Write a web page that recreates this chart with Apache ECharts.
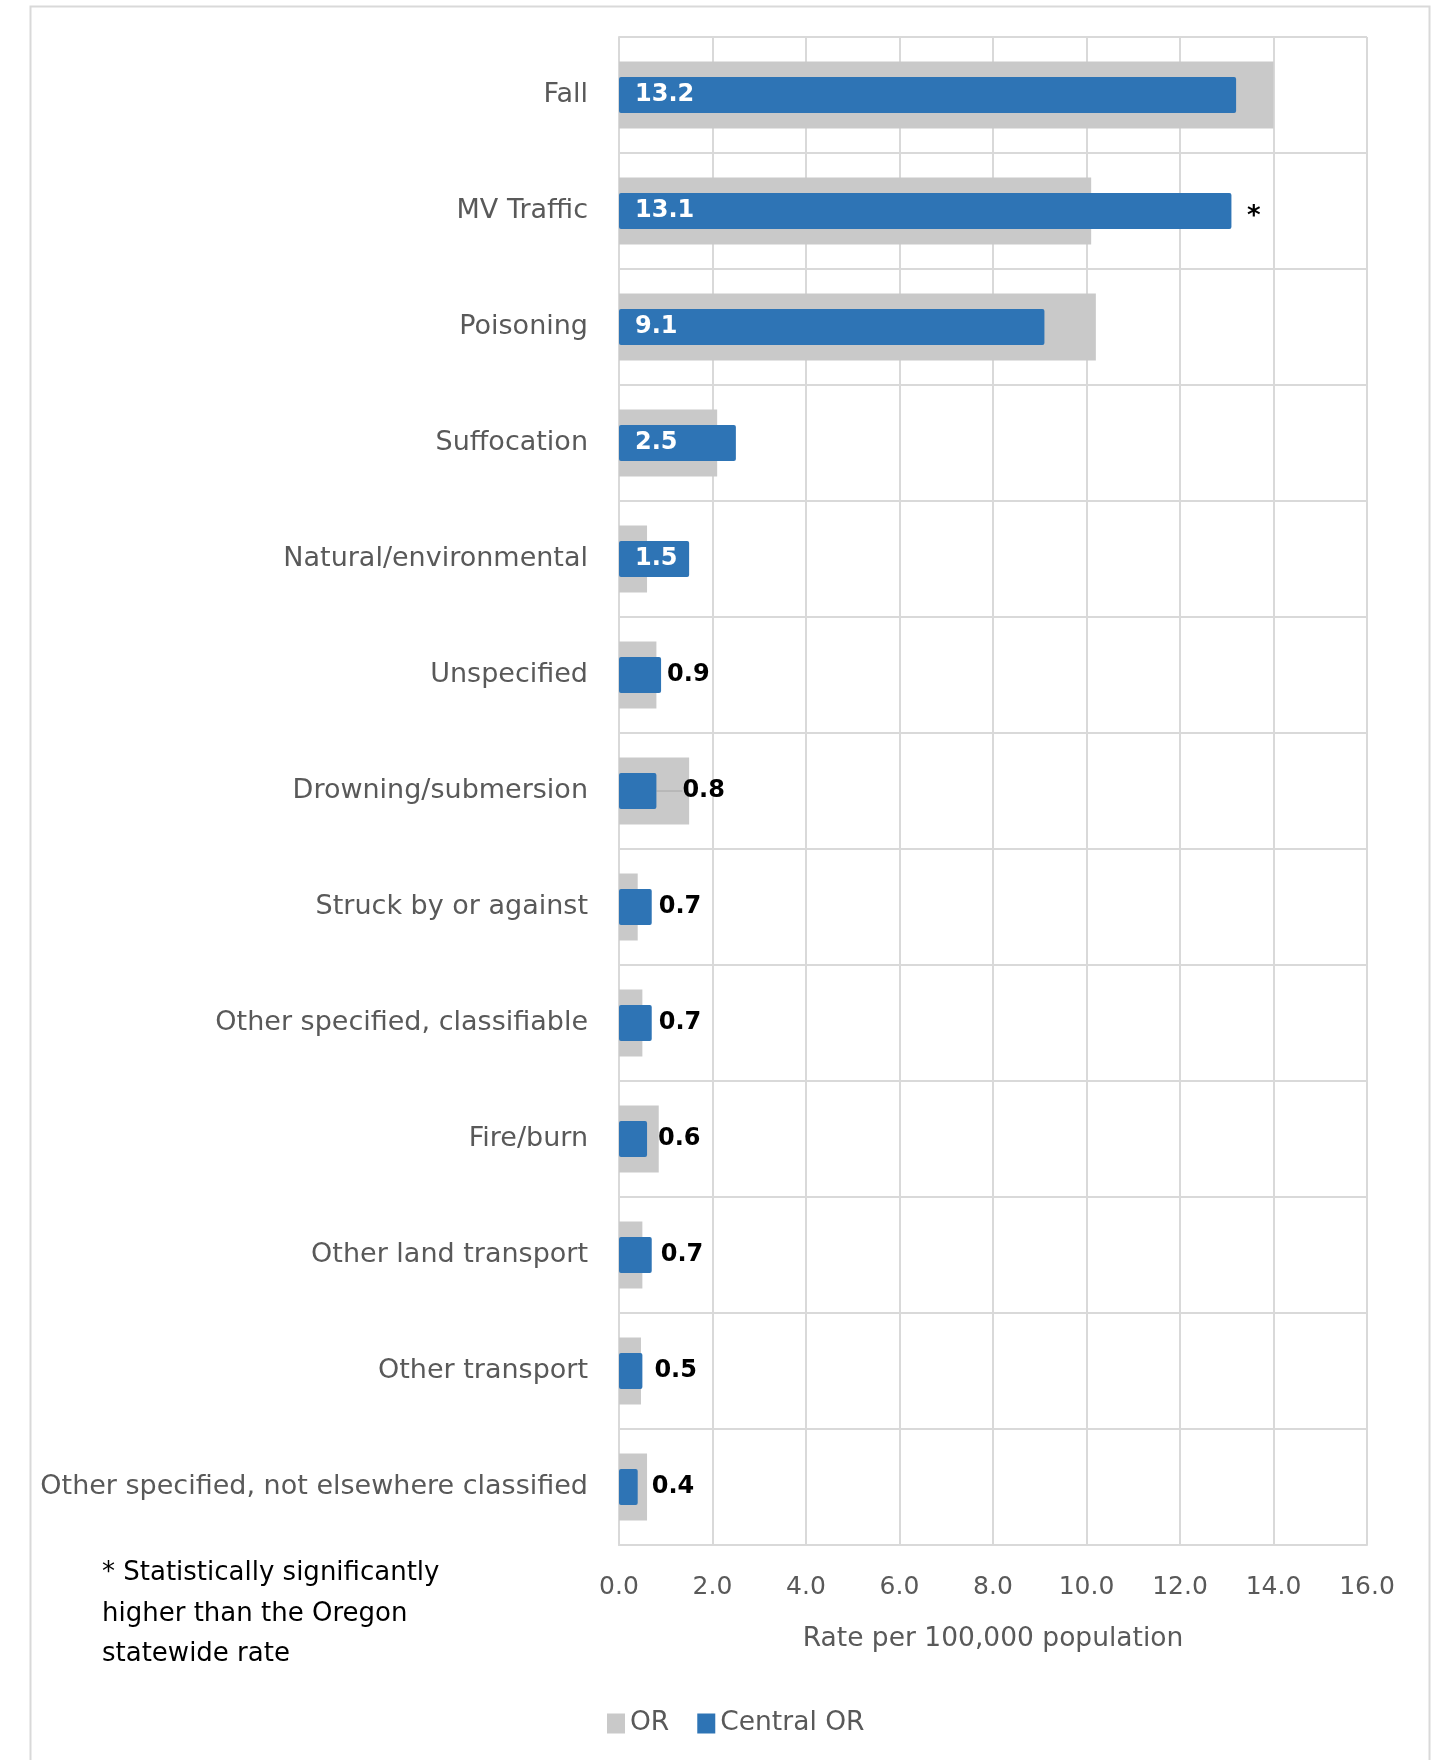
<!DOCTYPE html>
<html>
<head>
<meta charset="utf-8">
<script src="https://cdn.jsdelivr.net/npm/echarts@6/dist/echarts.min.js"></script>
<style>
html,body{margin:0;padding:0;background:#fff;}
#chart{width:1444px;height:1760px;}
</style>
</head>
<body>
<div id="chart"></div>
<script>
const categories = [
  'Fall', 'MV Traffic', 'Poisoning', 'Suffocation', 'Natural/environmental',
  'Unspecified', 'Drowning/submersion', 'Struck by or against',
  'Other specified, classifiable', 'Fire/burn', 'Other land transport',
  'Other transport', 'Other specified, not elsewhere classified'
];
const orValues = [14.0, 10.1, 10.2, 2.1, 0.6, 0.8, 1.5, 0.4, 0.5, 0.85, 0.5, 0.47, 0.6];
const centralValues = [13.2, 13.1, 9.1, 2.5, 1.5, 0.9, 0.8, 0.7, 0.7, 0.6, 0.7, 0.5, 0.4];
const significant = ['MV Traffic'];
const xTicks = [0, 2, 4, 6, 8, 10, 12, 14, 16];
const legendNames = ['OR', 'Central OR'];
const footnote = ['* Statistically significantly', 'higher than the Oregon', 'statewide rate'];
const axisTitle = 'Rate per 100,000 population';

const GREY = '#c9c9c9';
const BLUE = '#2e74b5';
const TXT = '#595959';
const FONT = '"DejaVu Sans", Verdana, sans-serif';
const GRIDC = '#d9d9d9';

const outsideDist = [0, 0, 0, 0, 0, 6, 6, 7, 7, 11, 9, 12, 14];
const movedLabel = 'Drowning/submersion';

const blueData = centralValues.map((v, i) => {
  const inside = v >= 1.5;
  const item = {
    value: v,
    label: inside ? {
      position: 'insideLeft', distance: 16, color: '#ffffff'
    } : {
      position: 'right', distance: outsideDist[i], color: '#000000'
    }
  };
  if (categories[i] === movedLabel) {
    item.labelLine = {show: true, lineStyle: {color: '#a6a6a6', width: 1}};
  }
  return item;
});

const catAxisBase = {
  type: 'category', data: categories, inverse: true
};

const chart = echarts.init(document.getElementById('chart'), null, {renderer: 'canvas'});
chart.setOption({
  animation: false,
  backgroundColor: '#ffffff',
  textStyle: {fontFamily: FONT},
  grid: {left: 619, right: 77, top: 37, bottom: 215, containLabel: false},
  legend: {
    data: legendNames,
    left: 602, top: 1705,
    itemWidth: 18, itemHeight: 20, itemGap: 28,
    icon: 'rect',
    textStyle: {fontSize: 26.5, color: TXT, fontFamily: FONT}
  },
  xAxis: {
    type: 'value',
    min: xTicks[0], max: xTicks[xTicks.length - 1], interval: xTicks[1] - xTicks[0],
    axisLine: {show: true, lineStyle: {color: GRIDC, width: 2}},
    axisTick: {show: false},
    axisLabel: {fontSize: 25, color: TXT, margin: 30, fontFamily: FONT,
      formatter: v => v.toFixed(1)},
    splitLine: {show: true, lineStyle: {color: GRIDC, width: 2}},
    name: axisTitle, nameLocation: 'middle', nameGap: 81,
    nameTextStyle: {fontSize: 26.5, color: TXT, fontFamily: FONT}
  },
  yAxis: [
    Object.assign({}, catAxisBase, {
      axisLine: {show: true, lineStyle: {color: GRIDC, width: 2}},
      axisTick: {show: false},
      axisLabel: {fontSize: 27, color: TXT, margin: 31, fontFamily: FONT},
      splitLine: {show: true, lineStyle: {color: GRIDC, width: 2}}
    }),
    Object.assign({}, catAxisBase, {show: false})
  ],
  series: [
    {
      name: legendNames[0], type: 'bar', data: orValues,
      yAxisIndex: 0, barWidth: 67,
      itemStyle: {color: GREY},
      z: 2
    },
    {
      name: legendNames[1], type: 'bar', data: blueData,
      yAxisIndex: 1, barWidth: 36,
      itemStyle: {color: BLUE, borderRadius: 2},
      label: {show: true, fontSize: 24, fontWeight: 'bold', fontFamily: FONT,
        formatter: p => p.value.toFixed(1)},
      labelLayout: function (params) {
        if (categories[params.dataIndex] === movedLabel) {
          return {dx: 20};
        }
        return {};
      },
      markPoint: {
        symbol: 'circle', symbolSize: 1,
        itemStyle: {color: 'rgba(0,0,0,0)'},
        label: {show: true, position: 'right', distance: 15, offset: [0, 6], formatter: '*',
          color: '#000', fontSize: 26, fontWeight: 'bold', fontFamily: FONT},
        data: significant.map(c => ({coord: [centralValues[categories.indexOf(c)], c]}))
      },
      z: 3
    }
  ],
  graphic: [
    {type: 'rect', left: 28, top: 4, shape: {width: 1399, height: 1800},
      style: {fill: 'none', stroke: GRIDC, lineWidth: 2}, silent: true, z: -1},
    {type: 'text', left: 102, top: 1553,
      style: {text: footnote.join('\n'), fontSize: 26, lineHeight: 40.5,
        fill: '#000', fontFamily: FONT}}
  ]
});
</script>
</body>
</html>
